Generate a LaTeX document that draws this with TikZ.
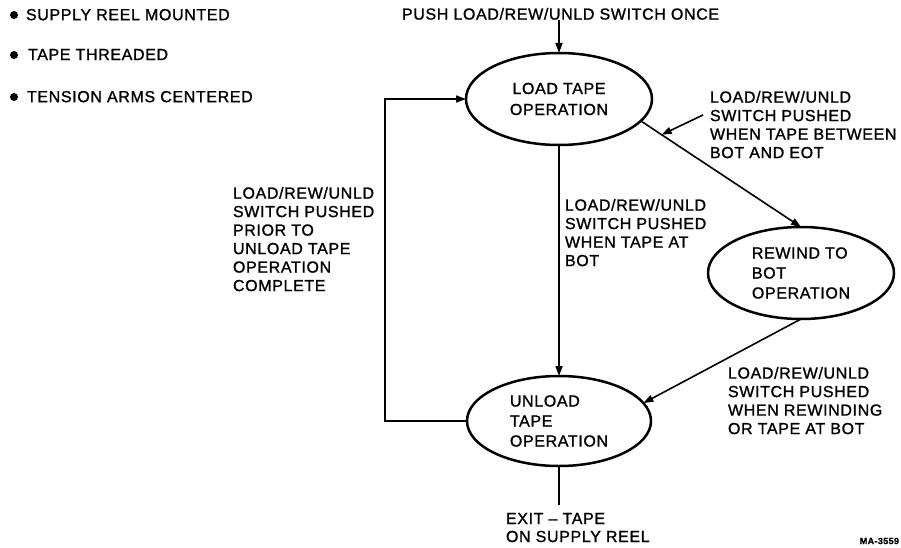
\documentclass[tikz,border=0pt]{standalone}
\usepackage{fontspec}
\setmainfont{Liberation Sans}[LetterSpace=4,FakeBold=1.2]
\usetikzlibrary{shapes.geometric,arrows.meta}
\begin{document}
\begin{tikzpicture}[x=1pt,y=-1pt,
  every node/.style={inner sep=0pt, outer sep=0pt},
  txt/.style={font=\fontsize{16}{18.5}\selectfont, align=left, anchor=north west},
  state/.style={ellipse, draw, line width=2.5pt, minimum width=186pt, minimum height=92pt,
    font=\fontsize{16}{20}\selectfont, align=left},
  conn/.style={line width=1.6pt},
  arr/.style={conn, -{Triangle[length=10pt,width=7pt]}},
  bul/.style={fill=black}
]
\useasboundingbox (0,0) rectangle (901,548);

% preconditions
\fill[bul] (14,15) circle (4pt);
\node[txt] (b1) at (26,9) {SUPPLY REEL MOUNTED};
\fill[bul] (14,55) circle (4pt);
\node[txt] (b2) at (28,49) {TAPE THREADED};
\fill[bul] (14,97) circle (4pt);
\node[txt] (b3) at (27,91) {TENSION ARMS CENTERED};

% states
\node[state, align=center, font=\fontsize{16}{21}\selectfont] (load) at (559,99) {LOAD TAPE\\OPERATION};
\node[state, minimum width=184pt, minimum height=90pt] (unload) at (559,421) {UNLOAD\\TAPE\\OPERATION};
\node[state] (rewind) at (801,273) {REWIND TO\\BOT\\OPERATION};

% texts
\node[txt] (push) at (402,8) {PUSH LOAD/REW/UNLD SWITCH ONCE};
\node[txt] (labA) at (710,91) {LOAD/REW/UNLD\\SWITCH PUSHED\\WHEN TAPE BETWEEN\\BOT AND EOT};
\node[txt] (labB) at (565,199) {LOAD/REW/UNLD\\SWITCH PUSHED\\WHEN TAPE AT\\BOT};
\node[txt] (labC) at (233,187) {LOAD/REW/UNLD\\SWITCH PUSHED\\PRIOR TO\\UNLOAD TAPE\\OPERATION\\COMPLETE};
\node[txt] (labD) at (728,367) {LOAD/REW/UNLD\\SWITCH PUSHED\\WHEN REWINDING\\OR TAPE AT BOT};
\node[txt, font=\fontsize{16}{18}\selectfont] (exit) at (506,513) {EXIT – TAPE\\ON SUPPLY REEL};
\node[font=\bfseries\fontsize{9}{9}\selectfont, anchor=east] (ma) at (899,541) {MA-3559};

% connectors
\draw[arr] (push.south -| load.north) -- (load.north);
\draw[arr] (load.south) -- (unload.north);
\draw[arr] (load.-15) -- (rewind.north);
\path (load.-15) -- (rewind.north) coordinate[pos=0.13] (tipA);
\coordinate (tailA) at (703,115);
\draw[arr] (tailA) -- (tipA);
\draw[arr] (rewind.south) -- (unload.12);
\coordinate (fb) at (385,260);
\draw[arr] (unload.west) -| (fb) |- (load.west);
\coordinate (exitend) at (559,505);
\draw[conn] (unload.south) -- (exitend);
\end{tikzpicture}
\end{document}
